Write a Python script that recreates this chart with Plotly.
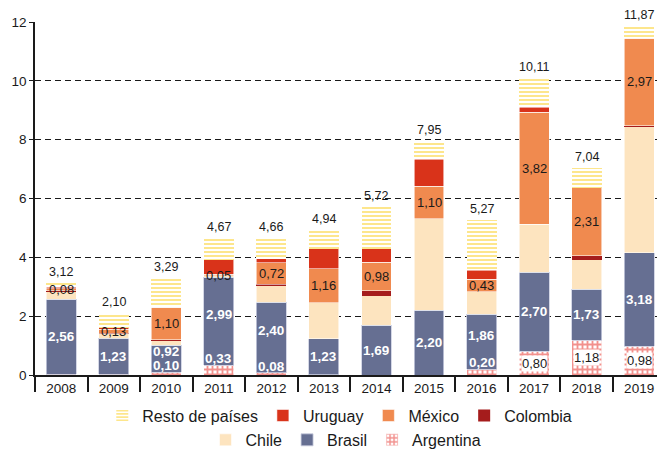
import plotly.graph_objects as go

years = ["2008", "2009", "2010", "2011", "2012", "2013", "2014", "2015", "2016", "2017", "2018", "2019"]
argentina = [0.02, 0.02, 0.10, 0.33, 0.08, 0.01, 0.00, 0.00, 0.20, 0.80, 1.18, 0.98]
brasil = [2.56, 1.23, 0.92, 2.99, 2.40, 1.23, 1.69, 2.20, 1.86, 2.70, 1.73, 3.18]
chile = [0.26, 0.15, 0.15, 0.05, 0.55, 1.21, 1.00, 3.12, 0.77, 1.62, 1.00, 4.30]
colombia = [0.02, 0.02, 0.03, 0.00, 0.06, 0.01, 0.17, 0.00, 0.00, 0.00, 0.14, 0.02]
mexico = [0.08, 0.13, 1.10, 0.05, 0.72, 1.16, 0.98, 1.10, 0.43, 3.82, 2.31, 2.97]
uruguay = [0.04, 0.06, 0.01, 0.49, 0.14, 0.67, 0.45, 0.91, 0.30, 0.17, 0.00, 0.00]
resto = [0.14, 0.49, 0.98, 0.76, 0.71, 0.65, 1.43, 0.62, 1.71, 1.00, 0.68, 0.42]
totals = [3.12, 2.10, 3.29, 4.67, 4.66, 4.94, 5.72, 7.95, 5.27, 10.11, 7.04, 11.87]
argentina_labelled = [False, False, True, True, True, False, False, False, True, True, True, True]

FONT = "Liberation Sans, Arial, Helvetica, sans-serif"
INK = "#1a1a1a"


def fmt(v):
    return f"{v:.2f}".replace(".", ",")


fig = go.Figure()
edge = dict(color="rgba(255,255,255,0.7)", width=0.8)

fig.add_trace(go.Bar(name="Argentina", x=years, y=argentina, legend="legend2",
                     marker=dict(color="white", line=edge,
                                 pattern=dict(shape="+", fgcolor="#e5231c", bgcolor="white",
                                              size=5, solidity=0.6, fillmode="overlay"))))
fig.add_trace(go.Bar(name="Brasil", x=years, y=brasil, legend="legend2",
                     marker=dict(color="#666f92", line=dict(color="#c9cde0", width=0.8))))
fig.add_trace(go.Bar(name="Chile", x=years, y=chile, legend="legend2",
                     marker=dict(color="#fde4bf", line=edge)))
fig.add_trace(go.Bar(name="Colombia", x=years, y=colombia, legend="legend",
                     marker=dict(color="#a51c1c", line=dict(width=0))))
fig.add_trace(go.Bar(name="México", x=years, y=mexico, legend="legend",
                     marker=dict(color="#f08a4f", line=edge)))
fig.add_trace(go.Bar(name="Uruguay", x=years, y=uruguay, legend="legend",
                     marker=dict(color="#d9331a", line=edge)))
fig.add_trace(go.Bar(name="Resto de países", x=years, y=resto, legend="legend",
                     marker=dict(color="white", line=dict(width=0),
                                 pattern=dict(shape="-", fgcolor="#fcc800", bgcolor="white",
                                              size=4, solidity=0.45, fillmode="overlay"))))

ann = []
for i, yr in enumerate(years):
    a, b, c, co, m = argentina[i], brasil[i], chile[i], colombia[i], mexico[i]
    ann.append(dict(x=i, y=totals[i], text=fmt(totals[i]), showarrow=False,
                    yanchor="bottom", yshift=2, font=dict(size=12.5, color=INK)))
    small_arg = argentina_labelled[i] and a < 0.5
    if small_arg:
        yb = (a + 0.45 + a + b) / 2
    else:
        yb = a + b / 2
    ann.append(dict(x=i, y=yb, text="<b>" + fmt(b) + "</b>", showarrow=False,
                    font=dict(size=13.5, color="white")))
    ann.append(dict(x=i, y=a + b + c + co + m / 2, text=fmt(m), showarrow=False,
                    font=dict(size=13, color=INK)))
    if argentina_labelled[i]:
        if small_arg:
            ann.append(dict(x=i, y=a, text="<b>" + fmt(a) + "</b>", showarrow=False,
                            yanchor="bottom", yshift=-3,
                            font=dict(size=13.5, color="white")))
        else:
            ann.append(dict(x=i, y=a / 2, text=fmt(a), showarrow=False, bgcolor="white",
                            borderpad=0, font=dict(size=13, color=INK)))

fig.update_layout(
    barmode="stack",
    bargap=0.43,
    width=657, height=449,
    margin=dict(l=35, r=0, t=22, b=74, autoexpand=False),
    paper_bgcolor="white", plot_bgcolor="white",
    font=dict(family=FONT, color=INK, size=13),
    annotations=ann,
    legend=dict(orientation="h", x=0.49, xanchor="center", y=-0.115, yanchor="middle",
                traceorder="reversed", font=dict(size=16, color=INK), itemclick=False,
                bgcolor="rgba(0,0,0,0)"),
    legend2=dict(orientation="h", x=0.50, xanchor="center", y=-0.184, yanchor="middle",
                 traceorder="reversed", font=dict(size=16, color=INK), itemclick=False,
                 bgcolor="rgba(0,0,0,0)"),
    xaxis=dict(type="category", range=[-0.5, 11.34], autorange=False, showline=True,
               linecolor=INK, linewidth=1.5, automargin=False,
               ticks="outside", tickson="boundaries", ticklen=15, tickwidth=1.5, tickcolor=INK,
               tickfont=dict(size=13.5, color=INK), showgrid=False, zeroline=False),
    yaxis=dict(range=[0, 12], autorange=False, tickvals=[0, 2, 4, 6, 8, 10, 12], showline=True,
               linecolor=INK, automargin=False,
               linewidth=1.5, ticks="outside", ticklen=4, tickcolor=INK, showgrid=True,
               gridcolor=INK, gridwidth=1, griddash="6px,4px", zeroline=False,
               tickfont=dict(size=13.5, color=INK)),
)

fig.write_html("out.html", config={"displayModeBar": False},
               post_script="document.body.style.margin='0';document.body.style.overflow='hidden';")
